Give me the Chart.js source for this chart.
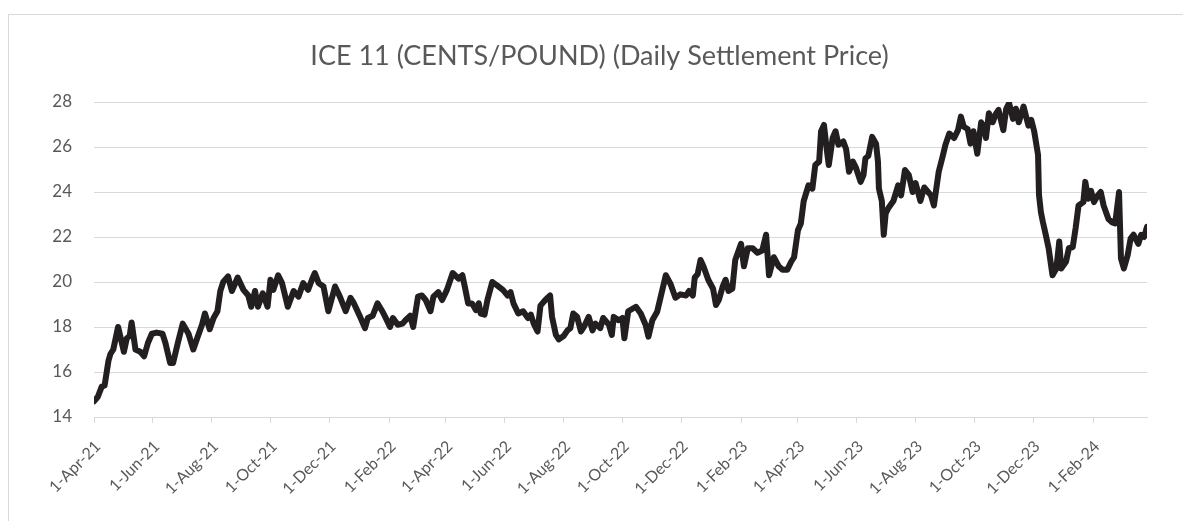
<!DOCTYPE html>
<html>
<head>
<meta charset="utf-8">
<title>ICE 11 Daily Settlement Price</title>
<script src="https://cdn.jsdelivr.net/npm/chart.js@4.4.1/dist/chart.umd.min.js"></script>
<style>
  html, body { margin: 0; padding: 0; background: #fff; overflow: hidden; }
  #wrap { position: relative; width: 1183px; height: 521px; }
  #frame { position: absolute; left: 8px; top: 14px; width: 1200px; height: 600px;
           border: 1px solid #d9d9d9; pointer-events: none; }
  #chart-ice { position: absolute; left: 0; top: 0; }
</style>
</head>
<body>
<div id="wrap">
  <div id="frame"></div>
  <canvas id="chart-ice" width="1183" height="521"></canvas>
</div>
<script>
// days counted from 1-Apr-21
const days = [
  0, 4, 8, 11, 15, 17, 20, 25, 31, 34, 37, 39, 43, 48, 52, 56, 60, 65, 71, 74,
  79, 82, 87, 92, 98, 103, 107, 112, 115, 120, 124, 128, 131, 134, 139, 143, 149, 155, 160, 163,
  167, 170, 175, 180, 183, 186, 191, 195, 201, 207, 212, 217, 222, 226, 229, 233, 238, 243, 250, 255,
  261, 266, 269, 276, 281, 284, 289, 294, 299, 302, 307, 310, 315, 320, 323, 328, 331, 336, 340, 344,
  349, 352, 357, 361, 366, 372, 378, 382, 385, 388, 392, 396, 399, 401, 405, 408, 413, 418, 424, 429,
  432, 435, 440, 445, 450, 453, 456, 460, 463, 468, 473, 475, 479, 482, 487, 491, 494, 497, 501, 505,
  508, 513, 517, 520, 525, 528, 534, 537, 539, 544, 548, 550, 554, 562, 567, 572, 575, 579, 584, 588,
  593, 598, 603, 608, 614, 617, 621, 623, 626, 629, 632, 637, 642, 645, 648, 652, 655, 658, 662, 665,
  671, 674, 678, 683, 688, 693, 697, 700, 705, 710, 714, 719, 723, 726, 730, 733, 736, 741, 745, 748,
  752, 754, 757, 760, 762, 766, 769, 772, 777, 780, 783, 787, 790, 795, 798, 800, 803, 807, 811, 813,
  814, 817, 819, 821, 824, 829, 834, 837, 841, 845, 849, 852, 857, 861, 865, 868, 871, 876, 880, 883,
  887, 892, 896, 899, 902, 906, 909, 912, 916, 920, 923, 925, 928, 932, 935, 938, 943, 946, 949, 953,
  956, 959, 964, 969, 972, 975, 979, 980, 982, 984, 987, 990, 994, 998, 1001, 1003, 1008, 1011, 1015, 1018,
  1021, 1026, 1028, 1031, 1034, 1037, 1041, 1044, 1047, 1052, 1056, 1059, 1063, 1065, 1068, 1072, 1075, 1078, 1083, 1086,
  1089, 1092
];

// cents per pound
const prices = [
  14.7, 14.9, 15.35, 15.4, 16.5, 16.8, 17.0, 18.0, 16.9, 17.5, 17.6, 18.2, 17.0, 16.9, 16.7, 17.3, 17.7, 17.75, 17.7, 17.3,
  16.4, 16.4, 17.3, 18.15, 17.7, 17.0, 17.5, 18.1, 18.6, 17.9, 18.4, 18.7, 19.6, 20.0, 20.25, 19.6, 20.2, 19.65, 19.4, 18.9,
  19.6, 18.9, 19.5, 18.9, 20.1, 19.65, 20.3, 19.95, 18.9, 19.6, 19.35, 19.95, 19.65, 20.1, 20.4, 19.95, 19.8, 18.7, 19.8, 19.35,
  18.7, 19.3, 19.1, 18.45, 17.95, 18.4, 18.5, 19.05, 18.7, 18.45, 18.0, 18.4, 18.1, 18.15, 18.3, 18.5, 18.0, 19.35, 19.4, 19.2,
  18.7, 19.35, 19.55, 19.2, 19.65, 20.4, 20.15, 20.3, 19.7, 19.05, 19.05, 18.75, 19.05, 18.6, 18.55, 19.2, 20.0, 19.85, 19.65, 19.4,
  19.55, 19.05, 18.6, 18.7, 18.4, 18.55, 18.15, 17.8, 18.95, 19.2, 19.4, 18.45, 17.65, 17.45, 17.6, 17.85, 17.95, 18.6, 18.45, 17.8,
  18.0, 18.45, 17.85, 18.15, 17.95, 18.4, 18.1, 17.65, 18.45, 18.3, 18.4, 17.5, 18.7, 18.9, 18.6, 18.1, 17.57, 18.3, 18.68, 19.4,
  20.3, 19.9, 19.3, 19.45, 19.4, 19.6, 19.4, 20.2, 20.35, 20.98, 20.7, 20.1, 19.7, 18.98, 19.2, 19.8, 20.1, 19.6, 19.7, 20.98,
  21.7, 20.7, 21.5, 21.5, 21.3, 21.4, 22.1, 20.3, 21.1, 20.7, 20.55, 20.55, 20.9, 21.1, 22.3, 22.6, 23.6, 24.3, 24.15, 25.2,
  25.35, 26.7, 26.98, 25.85, 25.2, 26.4, 26.7, 26.1, 26.25, 25.9, 24.9, 25.35, 25.1, 24.45, 24.75, 25.5, 25.6, 26.45, 26.15, 25.35,
  24.15, 23.6, 22.1, 23.05, 23.3, 23.6, 24.3, 23.85, 24.98, 24.75, 24.0, 24.4, 23.6, 24.2, 24.0, 23.85, 23.4, 24.9, 25.57, 26.1,
  26.6, 26.4, 26.75, 27.35, 26.9, 26.8, 26.15, 26.7, 25.7, 27.1, 26.9, 26.4, 27.5, 27.1, 27.45, 27.65, 26.75, 27.7, 27.95, 27.25,
  27.7, 27.1, 27.8, 26.95, 27.2, 26.7, 25.65, 23.87, 23.1, 22.67, 22.1, 21.5, 20.3, 20.6, 21.8, 20.6, 20.9, 21.5, 21.55, 22.4,
  23.4, 23.55, 24.45, 23.7, 24.05, 23.55, 23.85, 24.0, 23.4, 22.8, 22.65, 22.6, 24.0, 21.05, 20.6, 21.2, 21.93, 22.1, 21.7, 22.1,
  22.0, 22.45
];

// x axis labels, every two months
const tickDays = [0, 61, 122, 183, 244, 306, 365, 426, 487, 548, 609, 671, 730, 791, 852, 913, 974, 1036];
const tickLabels = ["1-Apr-21", "1-Jun-21", "1-Aug-21", "1-Oct-21", "1-Dec-21", "1-Feb-22",
  "1-Apr-22", "1-Jun-22", "1-Aug-22", "1-Oct-22", "1-Dec-22", "1-Feb-23",
  "1-Apr-23", "1-Jun-23", "1-Aug-23", "1-Oct-23", "1-Dec-23", "1-Feb-24"];

const yTicks = [14, 16, 18, 20, 22, 24, 26, 28];

var points = days.map(function (d, i) { return { x: d, y: prices[i] }; });

var ctx = document.getElementById("chart-ice").getContext("2d");

new Chart(ctx, {
  type: "line",
  data: {
    datasets: [{
      label: "ICE 11",
      data: points,
      borderColor: "#231f20",
      borderWidth: 6,
      borderJoinStyle: "round",
      borderCapStyle: "round",
      pointRadius: 0,
      tension: 0,
      fill: false,
    }],
  },
  options: {
    responsive: false,
    animation: false,
    layout: {
      // left padding keeps the title centred on the frame
      padding: { left: 52, right: 36, top: 0, bottom: 0 },
    },
    plugins: {
      legend: { display: false },
      tooltip: { enabled: false },
      title: {
        display: true,
        text: "ICE 11 (CENTS/POUND) (Daily Settlement Price)",
        color: "#595959",
        font: { family: "Lato", size: 27, weight: "normal", lineHeight: 1.2 },
        padding: { top: 40, bottom: 29.6 },
      },
    },
    scales: {
      x: {
        type: "linear",
        min: 0,
        max: 1092,
        afterBuildTicks: function (scale) {
          scale.ticks = tickDays.map(function (v) { return { value: v }; });
        },
        afterFit: function (scale) {
          scale.height = 104;
          scale.paddingLeft = 0;
          scale.paddingRight = 0;
        },
        grid: {
          drawOnChartArea: false,
          drawTicks: true,
          tickLength: 6,
          color: "#d9d9d9",
        },
        border: { display: true, color: "#d9d9d9", width: 1 },
        ticks: {
          autoSkip: false,
          minRotation: 45,
          maxRotation: 45,
          padding: 14,
          labelOffset: 4,
          color: "#595959",
          font: { family: "Lato", size: 16 },
          callback: function (value) {
            var k = tickDays.indexOf(value);
            return k >= 0 ? tickLabels[k] : "";
          },
        },
      },
      y: {
        min: 14,
        max: 28,
        afterBuildTicks: function (scale) {
          scale.ticks = yTicks.map(function (v) { return { value: v }; });
        },
        afterFit: function (scale) {
          scale.width = 42;
        },
        grid: {
          color: "#d9d9d9",
          drawTicks: false,
        },
        border: { display: false },
        ticks: {
          padding: 22,
          color: "#595959",
          font: { family: "Lato", size: 17 },
        },
      },
    },
  },
});
</script>
</body>
</html>
